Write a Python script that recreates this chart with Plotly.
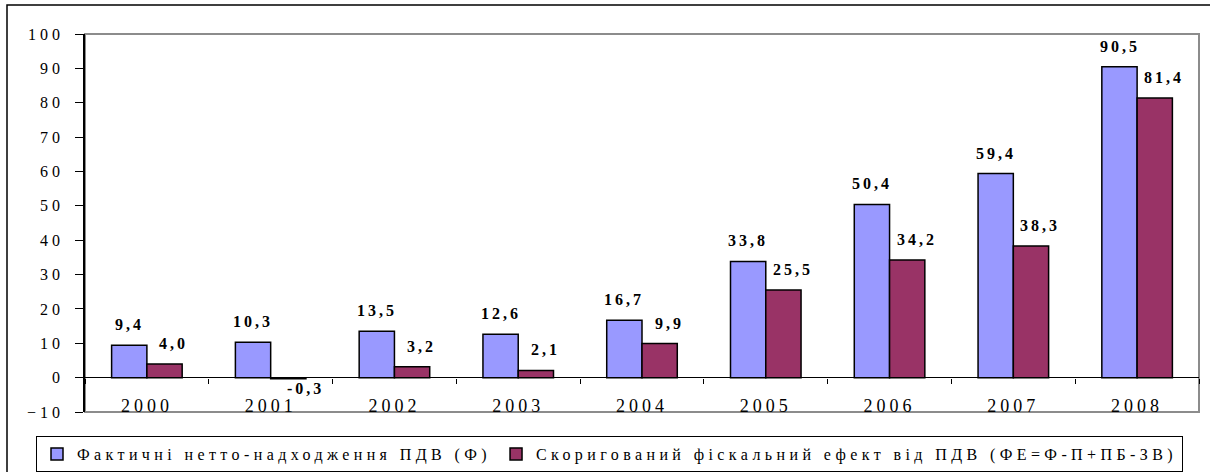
import plotly.graph_objects as go

years = ["2000", "2001", "2002", "2003", "2004", "2005", "2006", "2007", "2008"]
actual_vat = [9.4, 10.3, 13.5, 12.6, 16.7, 33.8, 50.4, 59.4, 90.5]
adjusted_effect = [4.0, -0.3, 3.2, 2.1, 9.9, 25.5, 34.2, 38.3, 81.4]
name_actual = "Фактичні нетто-надходження ПДВ (Ф)"
name_adjusted = "Скоригований фіскальний ефект від ПДВ (ФЕ=Ф-П+ПБ-ЗВ)"
y_ticks = list(range(-10, 101, 10))

W, H = 1210, 472
L, R, T, B = 85, 11, 34, 60
pw, ph = W - L - R, H - T - B


def px_x(x):
    return (x - L) / pw


def px_y(y):
    return (H - B - y) / ph


def fmt(v):
    return f"{v:.1f}".replace(".", ",")


fig = go.Figure()
fig.add_trace(go.Bar(x=years, y=actual_vat, name=name_actual,
                     marker=dict(color="#9999FF", line=dict(color="black", width=1.5))))
fig.add_trace(go.Bar(x=years, y=adjusted_effect, name=name_adjusted,
                     marker=dict(color="#993366", line=dict(color="black", width=1.5))))

annotations = []
for series, shift in ((actual_vat, -17.6), (adjusted_effect, 27)):
    for i, v in enumerate(series):
        annotations.append(dict(
            x=i, y=v, xref="x", yref="y", text=fmt(v), showarrow=False,
            xshift=(shift if v >= 0 else shift + 8), yshift=(10 if v >= 0 else 1),
            yanchor=("bottom" if v >= 0 else "top"),
            font=dict(size=16, color="black", weight="bold")))

shapes = [
    # plot frame (grey)
    dict(type="rect", xref="paper", yref="paper", x0=0, x1=1, y0=0, y1=1,
         line=dict(color="#8c8c8c", width=2), layer="below"),
    # outer chart frame
    dict(type="rect", xref="paper", yref="paper",
         x0=px_x(7), x1=px_x(1220), y0=px_y(490), y1=px_y(5),
         line=dict(color="black", width=1.5), layer="below"),
]

zero_pos = (0 - y_ticks[0]) / (y_ticks[-1] - y_ticks[0])

fig.update_layout(
    width=W, height=H,
    margin=dict(l=L, r=R, t=T, b=B, pad=0, autoexpand=False),
    paper_bgcolor="white", plot_bgcolor="white",
    font=dict(family="Liberation Serif", size=16, color="black"),
    barmode="group", bargap=0.43, bargroupgap=0,
    showlegend=True,
    legend=dict(orientation="h", x=px_x(36), y=px_y(436), xanchor="left", yanchor="top",
                bordercolor="black", borderwidth=1, bgcolor="white",
                font=dict(size=16), traceorder="normal"),
    xaxis=dict(type="category", categoryorder="array", categoryarray=years,
               range=[-0.5, len(years) - 0.5], autorange=False,
               anchor="free", position=zero_pos,
               showline=False, showgrid=False, zeroline=False,
               ticks="outside", tickson="boundaries", ticklen=5, tickwidth=1, tickcolor="black",
               ticklabelstandoff=15, tickfont=dict(size=18)),
    yaxis=dict(range=[y_ticks[0], y_ticks[-1]], autorange=False, tickvals=y_ticks,
               showline=True, linecolor="black", linewidth=1.5,
               ticks="outside", ticklen=8, tickcolor="black", tickwidth=1,
               showgrid=False, zeroline=True, zerolinecolor="black", zerolinewidth=1,
               ticklabelstandoff=8, tickfont=dict(size=16)),
    annotations=annotations,
    shapes=shapes,
)

post = """
var st=document.createElement('style');
st.textContent='svg text{letter-spacing:4px;} svg text.legendtext{letter-spacing:4.4px;} svg text.annotation-text{letter-spacing:3px;}';
document.head.appendChild(st);
var gd=document.getElementById('{plot_id}');
Plotly.relayout(gd, {'font.family': 'Times New Roman, Liberation Serif, serif'});
"""

fig.write_html("out.html", post_script=post)
